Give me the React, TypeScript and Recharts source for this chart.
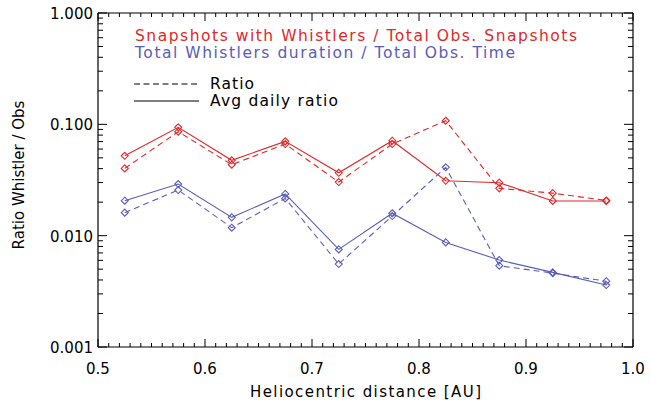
import { LineChart, Line, XAxis, YAxis } from 'recharts';

const distances = [0.525, 0.575, 0.625, 0.675, 0.725, 0.775, 0.825, 0.875, 0.925, 0.975];
const snapRatio = [0.0402, 0.0859, 0.0434, 0.0665, 0.0303, 0.0665, 0.1077, 0.0266, 0.0241, 0.0207];
const snapDaily = [0.0522, 0.094, 0.0475, 0.0703, 0.0367, 0.0713, 0.0311, 0.0299, 0.0205, 0.0205];
const durRatio = [0.0161, 0.0257, 0.0118, 0.0216, 0.00556, 0.015, 0.0411, 0.00537, 0.00461, 0.0039];
const durDaily = [0.0206, 0.0291, 0.0146, 0.0237, 0.00753, 0.0159, 0.0087, 0.00604, 0.00468, 0.0036];

const xTicks = Array.from({ length: 51 }, (_, i) => +(0.5 + i * 0.01).toFixed(2));
const yMajor = [0.001, 0.01, 0.1, 1];
const yTicks = [0.001, 0.01, 0.1].flatMap((d) => [1, 2, 3, 4, 5, 6, 7, 8, 9].map((m) => +(d * m).toPrecision(3))).concat([1]);
const yLabels: Record<string, string> = { '0.001': '0.001', '0.01': '0.010', '0.1': '0.100', '1': '1.000' };

const RED = '#e0282a';
const BLUE = '#5a5cb8';
const FONT = 'DejaVu Sans';

const data = distances.map((x, i) => ({
  x,
  snapRatio: snapRatio[i],
  snapDaily: snapDaily[i],
  durRatio: durRatio[i],
  durDaily: durDaily[i],
}));

const isMajorX = (v: number) => Math.abs(v * 10 - Math.round(v * 10)) < 1e-6;
const isMajorY = (v: number) => yMajor.some((m) => Math.abs(v - m) < 1e-9);

const diamond = (color: string) => (props: any) => {
  const { cx, cy, index } = props;
  if (cx == null || cy == null) return <g key={index} />;
  const r = 3.5;
  return (
    <path
      key={index}
      d={`M${cx},${cy - r}L${cx + r},${cy}L${cx},${cy + r}L${cx - r},${cy}Z`}
      fill="none"
      stroke={color}
      strokeWidth={1.1}
    />
  );
};

const BottomTick = (props: any) => {
  const { x, y, payload } = props;
  const major = isMajorX(payload.value);
  return (
    <g>
      <line x1={x} x2={x} y1={y} y2={y - (major ? 8 : 4)} stroke="#000" strokeWidth={1} />
      {major && (
        <text x={x} y={y + 27} textAnchor="middle" fontFamily={FONT} fontSize={15} fill="#000">
          {payload.value.toFixed(1)}
        </text>
      )}
    </g>
  );
};

const TopTick = (props: any) => {
  const { x, y, payload } = props;
  const major = isMajorX(payload.value);
  return <line x1={x} x2={x} y1={y} y2={y + (major ? 8 : 4)} stroke="#000" strokeWidth={1} />;
};

const LeftTick = (props: any) => {
  const { x, y, payload } = props;
  const major = isMajorY(payload.value);
  return (
    <g>
      <line x1={x} x2={x + (major ? 9 : 5)} y1={y} y2={y} stroke="#000" strokeWidth={1} />
      {major && (
        <text x={x - 5} y={y + 6} textAnchor="end" fontFamily={FONT} fontSize={15} fill="#000">
          {yLabels[String(payload.value)]}
        </text>
      )}
    </g>
  );
};

const RightTick = (props: any) => {
  const { x, y, payload } = props;
  const major = isMajorY(payload.value);
  return <line x1={x} x2={x - (major ? 9 : 5)} y1={y} y2={y} stroke="#000" strokeWidth={1} />;
};

export default function App() {
  return (
    <div style={{ position: 'absolute', left: 0, top: 0 }}>
      <LineChart width={651} height={400} data={data} margin={{ top: 12, right: 17, left: 0, bottom: 0 }}>
        <XAxis
          xAxisId="b"
          dataKey="x"
          type="number"
          domain={[0.5, 1]}
          ticks={xTicks}
          interval={0}
          tickSize={0}
          tickMargin={0}
          tick={BottomTick}
          axisLine={{ stroke: '#000', strokeWidth: 1.2 }}
          height={53}
        />
        <XAxis
          xAxisId="t"
          orientation="top"
          dataKey="x"
          type="number"
          domain={[0.5, 1]}
          ticks={xTicks}
          interval={0}
          tickSize={0}
          tickMargin={0}
          tick={TopTick}
          axisLine={{ stroke: '#000', strokeWidth: 1.2 }}
          height={1}
        />
        <YAxis
          yAxisId="l"
          scale="log"
          type="number"
          domain={[0.001, 1]}
          allowDataOverflow
          ticks={yTicks}
          interval={0}
          tickSize={0}
          tickMargin={0}
          tick={LeftTick}
          axisLine={{ stroke: '#000', strokeWidth: 1.2 }}
          width={98}
        />
        <YAxis
          yAxisId="r"
          orientation="right"
          scale="log"
          type="number"
          domain={[0.001, 1]}
          allowDataOverflow
          ticks={yTicks}
          interval={0}
          tickSize={0}
          tickMargin={0}
          tick={RightTick}
          axisLine={{ stroke: '#000', strokeWidth: 1.2 }}
          width={1}
        />
        {/* invisible series so the top and right frame axes get drawn */}
        <Line xAxisId="t" yAxisId="r" dataKey="snapDaily" stroke="transparent" dot={false} activeDot={false} isAnimationActive={false} />
        <Line xAxisId="b" yAxisId="l" dataKey="snapRatio" stroke={RED} strokeWidth={1.1} strokeDasharray="6 4" dot={diamond(RED)} isAnimationActive={false} />
        <Line xAxisId="b" yAxisId="l" dataKey="snapDaily" stroke={RED} strokeWidth={1.1} dot={diamond(RED)} isAnimationActive={false} />
        <Line xAxisId="b" yAxisId="l" dataKey="durRatio" stroke={BLUE} strokeWidth={1.1} strokeDasharray="6 4" dot={diamond(BLUE)} isAnimationActive={false} />
        <Line xAxisId="b" yAxisId="l" dataKey="durDaily" stroke={BLUE} strokeWidth={1.1} dot={diamond(BLUE)} isAnimationActive={false} />
        <text x={135} y={41} fontFamily={FONT} fontSize={15.5} fill={RED} textLength={442} lengthAdjust="spacing">
          Snapshots with Whistlers / Total Obs. Snapshots
        </text>
        <text x={135} y={58} fontFamily={FONT} fontSize={15.5} fill={BLUE} textLength={380} lengthAdjust="spacing">
          Total Whistlers duration / Total Obs. Time
        </text>
        <line x1={134} x2={199} y1={84} y2={84} stroke="#000" strokeWidth={1.1} strokeDasharray="6 3.5" />
        <text x={210} y={89} fontFamily={FONT} fontSize={15.5} fill="#000" textLength={44} lengthAdjust="spacing">Ratio</text>
        <line x1={134} x2={199} y1={101} y2={101} stroke="#000" strokeWidth={1.1} />
        <text x={210} y={106} fontFamily={FONT} fontSize={15.5} fill="#000" textLength={128} lengthAdjust="spacing">Avg daily ratio</text>
        <text x={250} y={397} fontFamily={FONT} fontSize={15} fill="#000" textLength={231} lengthAdjust="spacing">
          Heliocentric distance [AU]
        </text>
        <text x={24} y={175} textAnchor="middle" fontFamily={FONT} fontSize={15} fill="#000" transform="rotate(-90 24 175)">
          Ratio Whistler / Obs
        </text>
      </LineChart>
    </div>
  );
}
